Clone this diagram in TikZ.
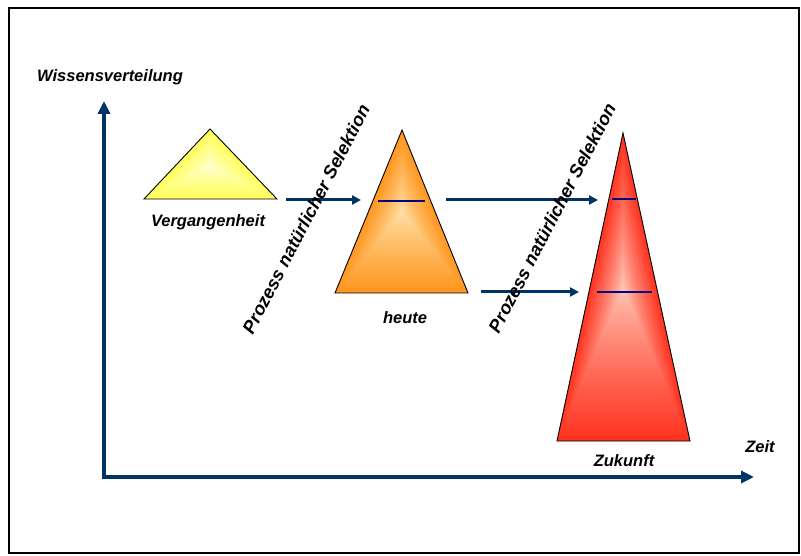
\documentclass[tikz,border=0pt]{standalone}
\usepackage{fontspec}
\setmainfont{Liberation Sans}
\usetikzlibrary{calc,arrows.meta}

\definecolor{axisblue}{RGB}{0,51,102}
\definecolor{markblue}{RGB}{0,0,128}
\definecolor{yelEdge}{RGB}{255,255,90}
\definecolor{yelMid}{RGB}{255,255,215}
\definecolor{oraEdge}{RGB}{255,150,30}
\definecolor{oraMid}{RGB}{255,228,175}
\definecolor{redEdge}{RGB}{255,50,30}
\definecolor{redMid}{RGB}{255,205,190}

\tikzset{
  axisline/.style={axisblue, line width=4pt, -{Triangle[length=13pt,width=12pt]}},
  flowarrow/.style={axisblue, line width=3pt, -{Triangle[length=9pt,width=9pt]}},
  levelmark/.style={markblue, line width=2.2pt},
  outline/.style={black, line width=0.9pt, line join=miter},
  label/.style={font=\fontsize{16.5}{19}\selectfont\bfseries\itshape, inner sep=0pt},
  slanted/.style={font=\fontsize{18.2}{22}\selectfont\bfseries\itshape, inner sep=0pt, rotate=62.5},
}

% triangle filled with a gradient running from its edges to a centre point
\newcommand{\gradtri}[6]{%
  \foreach \i in {0,...,48}{%
    \pgfmathsetmacro{\s}{1-\i/48}%
    \pgfmathtruncatemacro{\p}{100*\s^0.8}%
    \fill[#5!\p!#6] ($(#4)!\s!(#1)$) -- ($(#4)!\s!(#2)$) -- ($(#4)!\s!(#3)$) -- cycle;
  }%
  \draw[outline] (#1) -- (#2) -- (#3) -- cycle;
}

\begin{document}
\begin{tikzpicture}[x=1pt,y=-1pt]
  \useasboundingbox (0,0) rectangle (801,556);
  \draw[black, line width=1.6pt] (9,8) rectangle (799,553);

  % axes
  \coordinate (origin) at (104,477);
  \coordinate (ytip) at (104,101);
  \coordinate (xtip) at (754,477);
  \draw[axisline] (origin) -- (ytip);
  \draw[axisline] ($(origin)+(-2,0)$) -- (xtip);
  \node[label] (ylab) at (110,77) {Wissensverteilung};
  \node[label] (xlab) at (760,447) {Zeit};

  % past
  \coordinate (pA) at (210,129);
  \coordinate (pL) at (144,199);
  \coordinate (pR) at (277,199);
  \coordinate (pC) at (210,166);
  \gradtri{pA}{pL}{pR}{pC}{yelEdge}{yelMid}
  \node[label] (past) at (208,222) {Vergangenheit};

  % today
  \coordinate (tA) at (402,130);
  \coordinate (tL) at (335,293);
  \coordinate (tR) at (468,293);
  \coordinate (tC) at (402,212);
  \gradtri{tA}{tL}{tR}{tC}{oraEdge}{oraMid}
  \node[label] (today) at (405,318) {heute};
  \coordinate (tm1) at (378,201);
  \coordinate (tm2) at (425,201);
  \draw[levelmark] (tm1) -- (tm2);

  % future
  \coordinate (fA) at (623,133);
  \coordinate (fL) at (557,441);
  \coordinate (fR) at (690,441);
  \coordinate (fC) at (623,287);
  \gradtri{fA}{fL}{fR}{fC}{redEdge}{redMid}
  \node[label] (future) at (624,461) {Zukunft};
  \coordinate (fm1) at (612,199);
  \coordinate (fm2) at (636,199);
  \coordinate (fm3) at (597,292);
  \coordinate (fm4) at (652,292);
  \draw[levelmark] (fm1) -- (fm2);
  \draw[levelmark] (fm3) -- (fm4);

  % transitions
  \coordinate (a1s) at (286,200);
  \coordinate (a1e) at (361,200);
  \coordinate (a2s) at (446,200);
  \coordinate (a2e) at (598,200);
  \coordinate (a3s) at (481,292);
  \coordinate (a3e) at (579,292);
  \draw[flowarrow] (a1s) -- (a1e);
  \draw[flowarrow] (a2s) -- (a2e);
  \draw[flowarrow] (a3s) -- (a3e);

  \node[slanted] (sel1) at (306,219) {Prozess natürlicher Selektion};
  \node[slanted] (sel2) at (552,218) {Prozess natürlicher Selektion};
\end{tikzpicture}
\end{document}
